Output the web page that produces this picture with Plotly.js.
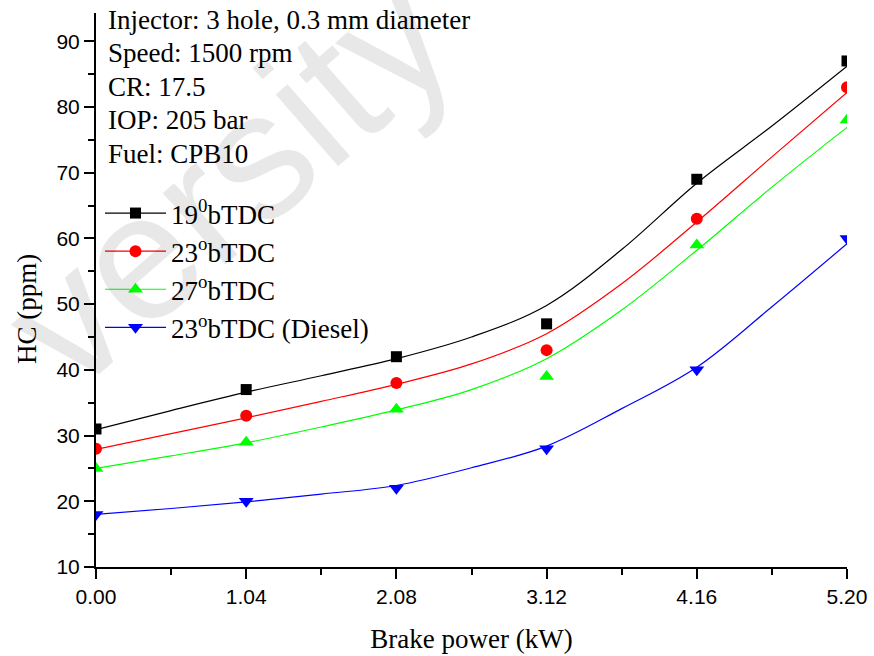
<!DOCTYPE html>
<html>
<head>
<meta charset="utf-8">
<script src="https://cdn.plot.ly/plotly-3.0.1.min.js"></script>
<style>html,body{margin:0;padding:0;background:#fff;}#chart{width:874px;height:656px;}</style>
</head>
<body>
<div id="chart"></div>
<script>
// Measured data points
const brakePower = [0, 1.04, 2.08, 3.12, 4.16, 5.20];
const hc19 = [31, 37, 42, 47, 69, 87];
const hc23 = [28, 33, 38, 43, 63, 83];
const hc27 = [25, 29, 34, 39, 59, 78];
const hcDiesel = [18, 20, 22, 28, 40, 60];

// Fitted curves
const fitX = [0, 0.52, 1.04, 1.56, 2.08, 2.60, 3.12, 3.64, 4.16, 4.68, 5.20];
const fit19 = [30.9, 33.8, 36.6, 39.1, 41.7, 45.0, 49.8, 58.3, 68.4, 77.1, 86.2];
const fit23 = [27.9, 30.3, 32.7, 35.2, 37.8, 40.9, 45.5, 53.1, 62.5, 72.4, 82.2];
const fit27 = [25.0, 26.9, 28.9, 31.3, 33.9, 37.0, 41.7, 49.1, 58.2, 67.8, 76.9];
const fitDiesel = [18.0, 18.9, 19.9, 21.1, 22.4, 25.1, 28.4, 34.1, 40.4, 49.6, 59.2];

const seriesNames = ['19<sup>0</sup>bTDC', '23<sup>o</sup>bTDC', '27<sup>o</sup>bTDC', '23<sup>o</sup>bTDC (Diesel)'];
const xTickVals = [0, 1.04, 2.08, 3.12, 4.16, 5.20];
const xTickText = ['0.00', '1.04', '2.08', '3.12', '4.16', '5.20'];
const infoLines = ['Injector: 3 hole, 0.3 mm diameter', 'Speed: 1500 rpm', 'CR: 17.5', 'IOP: 205 bar', 'Fuel: CPB10'];
const xTitle = 'Brake power (kW)';
const yTitle = 'HC (ppm)';
const watermark = 'versity';

const styles = [
  {color: '#000000', symbol: 'square', size: 11},
  {color: '#ff0000', symbol: 'circle', size: 12},
  {color: '#00ff00', symbol: 'triangle-up', size: 13},
  {color: '#0000ff', symbol: 'triangle-down', size: 13}
];
const pts = [hc19, hc23, hc27, hcDiesel];
const fits = [fit19, fit23, fit27, fitDiesel];

const traces = [];
for (let i = 0; i < 4; i++) {
  const s = styles[i];
  traces.push({x: fitX, y: fits[i], mode: 'lines', line: {color: s.color, width: 1.2, shape: 'spline'}, showlegend: false, hoverinfo: 'skip'});
  traces.push({x: brakePower, y: pts[i], mode: 'markers', marker: {color: s.color, symbol: s.symbol, size: s.size}, showlegend: false});
}
for (let i = 0; i < 4; i++) {
  const s = styles[i];
  traces.push({x: [null], y: [null], mode: 'lines+markers', name: seriesNames[i], legendgroup: 'g' + i,
    line: {color: s.color, width: 1.2}, marker: {color: s.color, symbol: s.symbol, size: s.size}});
}

const serif = 'Liberation Serif, Times New Roman, serif';
const sans = 'Liberation Sans, Arial, sans-serif';

// plot area: top 13px, bottom 567px -> paper coords from pixel
const H0 = 567, PH = 554, L0 = 96, PW = 751;
const py = p => (H0 - p) / PH;
const px = p => (p - L0) / PW;

const infoCenters = [20, 53, 86.5, 120.5, 154];
const annotations = [
  {text: watermark, xref: 'paper', yref: 'paper', x: px(228), y: py(180), xanchor: 'center', yanchor: 'middle',
    showarrow: false, textangle: -41, font: {family: sans, size: 180, color: 'rgba(0,0,0,0.09)'}},
  {text: yTitle, xref: 'paper', yref: 'paper', x: px(27), y: py(309), xanchor: 'center', yanchor: 'middle',
    showarrow: false, textangle: -90, font: {family: serif, size: 27, color: '#000'}}
];
infoLines.forEach((t, i) => annotations.push({text: t, xref: 'paper', yref: 'paper', x: px(106), y: py(infoCenters[i]),
  xanchor: 'left', yanchor: 'middle', align: 'left', showarrow: false, font: {family: serif, size: 27, color: '#000'}}));

const layout = {
  width: 874, height: 656,
  margin: {l: 96, r: 27, t: 13, b: 89},
  paper_bgcolor: '#ffffff', plot_bgcolor: '#ffffff',
  showlegend: true,
  legend: {x: px(100), y: py(189), xanchor: 'left', yanchor: 'top', bgcolor: 'rgba(0,0,0,0)', itemwidth: 61,
    font: {family: serif, size: 27, color: '#000'}, traceorder: 'grouped', tracegroupgap: 0},
  xaxis: {range: [0, 5.2], tickvals: xTickVals, ticktext: xTickText, showgrid: false, zeroline: false,
    showline: true, linecolor: '#000', linewidth: 2, ticks: 'outside', ticklen: 10, tickwidth: 2, tickcolor: '#000',
    minor: {tick0: 0, dtick: 0.52, ticks: 'outside', ticklen: 6, tickwidth: 2, tickcolor: '#000', showgrid: false},
    tickfont: {family: sans, size: 21, color: '#000'},
    title: {text: xTitle, font: {family: serif, size: 27, color: '#000'}, standoff: 22}},
  yaxis: {range: [10, 94.3], tick0: 10, dtick: 10, showgrid: false, zeroline: false,
    showline: true, linecolor: '#000', linewidth: 2, ticks: 'outside', ticklen: 10, tickwidth: 2, tickcolor: '#000',
    minor: {tick0: 10, dtick: 5, ticks: 'outside', ticklen: 6, tickwidth: 2, tickcolor: '#000', showgrid: false},
    tickfont: {family: sans, size: 21, color: '#000'}},
  annotations: annotations
};

Plotly.newPlot('chart', traces, layout, {displayModeBar: false, staticPlot: true});
</script>
</body>
</html>
